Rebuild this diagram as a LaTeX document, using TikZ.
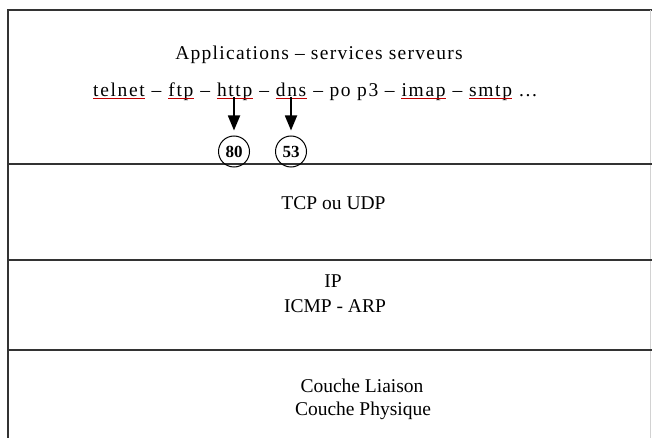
\documentclass[tikz,border=0pt]{standalone}
\usepackage{fontspec}
\setmainfont{Liberation Serif}
\usetikzlibrary{arrows.meta}
\begin{document}
\begin{tikzpicture}[x=1pt,y=-1pt,
  frameline/.style={line width=2pt, draw=black!80},
  lbl/.style={inner sep=0pt, anchor=base, font=\fontsize{19.5}{23}\selectfont},
  widetext/.style={inner sep=0pt, font=\fontsize{19.5}{23}\selectfont\addfontfeature{LetterSpace=6.5}},
  word/.style={inner sep=0pt, anchor=base west, font=\fontsize{19.5}{23}\selectfont\addfontfeature{LetterSpace=8.5}},
  ul/.style={draw=red!75!black, line width=1pt},
  port/.style={circle, draw, line width=1pt, minimum size=31pt, inner sep=0pt,
    font=\bfseries\fontsize{17}{20}\selectfont},
  arr/.style={line width=1.8pt, -{Triangle[width=12pt,length=15pt]}, shorten >=5pt}
]
\useasboundingbox (0,0) rectangle (652,438);
\fill[white] (0,0) rectangle (652,438);
% frame and layer separators
\draw[frameline] (8,440) -- (8,10) -- (652,10);
\draw[gray!35, line width=1pt] (650.5,10) -- (650.5,438);
\draw[frameline] (8,164) -- (652,164);
\draw[frameline] (8,260) -- (652,260);
\draw[frameline] (8,350) -- (652,350);
% applications
\node[widetext, anchor=base] (title) at (319,60) {Applications – services serveurs};
\node[word] (telnet) at (93,97) {telnet};
\node[word] (s1) at (telnet.base east) {\ –\ \null};
\node[word] (ftp) at (s1.base east) {ftp};
\node[word] (s2) at (ftp.base east) {\ –\ \null};
\node[word] (http) at (s2.base east) {http};
\node[word] (s3) at (http.base east) {\ –\ \null};
\node[word] (dns) at (s3.base east) {dns};
\node[word] (s4) at (dns.base east) {\ – po p3 –\ \null};
\node[word] (imap) at (s4.base east) {imap};
\node[word] (s5) at (imap.base east) {\ –\ \null};
\node[word] (smtp) at (s5.base east) {smtp};
\node[word] (s6) at (smtp.base east) {\ ...};
\foreach \w in {telnet,ftp,http,dns,imap,smtp}
  \draw[ul] ([yshift=-2pt]\w.base west) -- ([yshift=-2pt]\w.base east);
% ports
\node[port] (p80) at (234,151.5) {80};
\node[port] (p53) at (291,151.5) {53};
\draw[arr] (p80 |- http.base) -- (p80);
\draw[arr] (p53 |- dns.base) -- (p53);
% other layers
\node[lbl] (tcp) at (333.5,210) {TCP ou UDP};
\node[lbl] (ip) at (333,287) {IP};
\node[lbl] (icmp) at (335,312) {ICMP - ARP};
\node[lbl] (liaison) at (362,392) {Couche Liaison};
\node[lbl] (phys) at (363,415) {Couche Physique};
\end{tikzpicture}
\end{document}
